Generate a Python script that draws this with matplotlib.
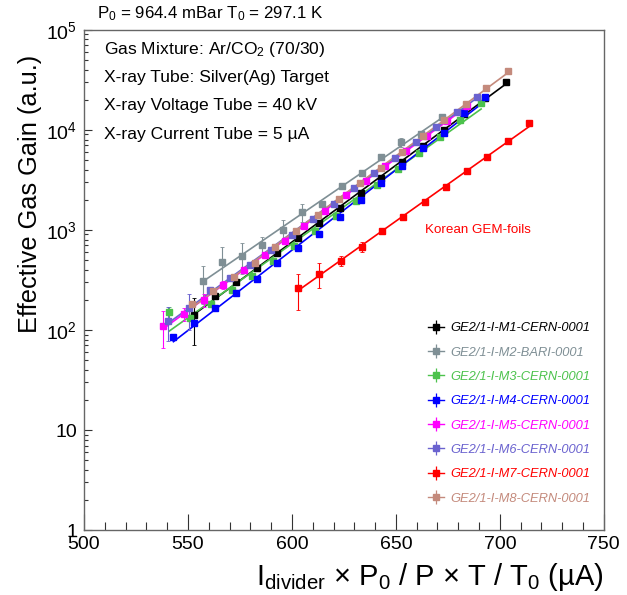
import matplotlib
matplotlib.use("Agg")
import matplotlib.pyplot as plt
import numpy as np
from matplotlib.lines import Line2D
from matplotlib.ticker import FixedLocator, LogLocator, MultipleLocator, FuncFormatter

plt.rcParams['font.family'] = ['Liberation Sans', 'DejaVu Sans']
plt.rcParams['mathtext.fontset'] = 'custom'
plt.rcParams['mathtext.rm'] = 'Liberation Sans'
plt.rcParams['mathtext.it'] = 'Liberation Sans:italic'

# data
m1_x = [553, 563, 573, 583, 593, 603, 613, 623, 633, 643, 653, 663, 673, 683, 693, 703]
m1_y = [140, 219, 302, 417, 589, 832, 1175, 1660, 2344, 3311, 4786, 6918, 10000, 14450, 20900, 30000]
m1_e = [70, 12, 15, 20, 25, 35, 45, 60, 80, 110, 150, 220, 300, 450, 600, 800]

m2_x = [557, 566.5, 576, 585.5, 595.5, 605, 614.5, 624, 633.5, 643, 652.5, 662, 672]
m2_y = [310, 473, 550, 700, 1000, 1510, 1820, 2750, 3700, 5300, 7500, 9000, 13300]
m2_e = [127, 200, 190, 145, 250, 300, 100, 200, 250, 300, 700, 400, 600]

m3_x = [541, 551, 561, 571, 581, 591, 601, 611, 621, 631, 641, 651, 661, 671, 681, 691]
m3_y = [151, 132, 182, 251, 347, 490, 692, 977, 1380, 1950, 2818, 4074, 5888, 8511, 12590, 18620]
m3_e = [20, 8, 10, 12, 15, 20, 25, 35, 45, 60, 90, 120, 180, 250, 350, 500]

m4_x = [543, 553, 563, 573, 583, 593, 603, 613, 623, 633, 643, 653, 663, 673, 683, 693]
m4_y = [86, 118, 167, 233, 324, 464, 655, 915, 1340, 1980, 2960, 4340, 6600, 9400, 14700, 21500]
m4_e = [4, 5, 6, 8, 10, 14, 20, 28, 40, 60, 90, 130, 200, 280, 440, 650]

m5_x = [538, 548, 557.5, 567, 577, 587, 596.5, 606, 616, 626, 635.5, 645, 655, 665, 674.5, 684]
m5_y = [110, 144, 200, 282, 398, 556, 776, 1096, 1549, 2213, 3090, 4365, 6166, 8710, 12300, 17380]
m5_e = [44, 20, 30, 25, 20, 30, 30, 40, 50, 70, 100, 130, 180, 260, 370, 520]

m6_x = [540.5, 550.5, 560.5, 570, 580, 590, 600, 610, 620, 630, 639.5, 649.5, 659.5, 669.5, 679.5, 689]
m6_y = [123, 166, 251, 331, 447, 631, 891, 1288, 1820, 2630, 3715, 5250, 7586, 10720, 15140, 21380]
m6_e = [46, 65, 20, 20, 25, 30, 35, 45, 60, 80, 110, 160, 230, 320, 450, 640]

m7_x = [603, 613, 623.5, 633.5, 643.5, 653.5, 664, 674, 684, 694, 704, 714]
m7_y = [260, 363, 490, 676, 968, 1352, 1905, 2679, 3837, 5395, 7656, 11590]
m7_e = [100, 100, 55, 80, 60, 50, 60, 80, 100, 150, 200, 250]

m8_x = [552, 562, 572, 582, 592, 602, 612.5, 622.5, 632.5, 643, 653, 663, 673, 683.5, 693.5, 704]
m8_y = [181, 245, 341, 471, 676, 977, 1413, 2042, 2917, 4169, 6026, 8710, 12590, 18200, 26120, 38300]
m8_e = [12, 12, 15, 20, 25, 35, 45, 60, 90, 120, 180, 260, 380, 550, 780, 1100]

labels = ["GE2/1-I-M1-CERN-0001", "GE2/1-I-M2-BARI-0001", "GE2/1-I-M3-CERN-0001",
          "GE2/1-I-M4-CERN-0001", "GE2/1-I-M5-CERN-0001", "GE2/1-I-M6-CERN-0001",
          "GE2/1-I-M7-CERN-0001", "GE2/1-I-M8-CERN-0001"]
colors = ["#000000", "#7f8f95", "#4cc24c", "#0000ff", "#ff00ff", "#6a62cf", "#ff0000", "#c48a7c"]

series = [(m1_x, m1_y, m1_e), (m2_x, m2_y, m2_e), (m3_x, m3_y, m3_e), (m4_x, m4_y, m4_e),
          (m5_x, m5_y, m5_e), (m6_x, m6_y, m6_e), (m7_x, m7_y, m7_e), (m8_x, m8_y, m8_e)]

fig = plt.figure(figsize=(6.27, 5.95), dpi=100)
ax = fig.add_axes([0.134, 0.109, 0.829, 0.841])

handles = []
for (x, y, e), c, lab in zip(series, colors, labels):
    x = np.array(x, dtype=float)
    y = np.array(y, dtype=float)
    # exponential fit, drawn over the data range
    p = np.polyfit(x, np.log(y), 1)
    xf = np.linspace(x[0], x[-1], 50)
    ax.plot(xf, np.exp(np.polyval(p, xf)), color=c, lw=1.2, zorder=2)
    ax.errorbar(x, y, yerr=e, fmt='s', color=c, ms=4, elinewidth=0.8,
                ecolor=c, capsize=1.5, capthick=0.6, zorder=3)
    handles.append((Line2D([], [], color=c, lw=1.0, marker='s', ms=4),
                    Line2D([], [], color=c, ls='none', marker='|', ms=10, mew=0.9)))

ax.set_yscale('log')
ax.set_xlim(500, 750)
ax.set_ylim(1, 1e5)

ax.xaxis.set_major_locator(MultipleLocator(50))
ax.xaxis.set_minor_locator(MultipleLocator(10))
ax.yaxis.set_major_locator(FixedLocator([1, 10, 100, 1e3, 1e4, 1e5]))
ax.yaxis.set_minor_locator(LogLocator(base=10, subs=np.arange(2, 10)))


def yfmt(v, pos):
    if v < 5:
        return "1"
    if v < 50:
        return "10"
    return r"$10^{%d}$" % round(np.log10(v))


ax.yaxis.set_major_formatter(FuncFormatter(yfmt))
ax.tick_params(axis='both', which='both', direction='in', top=False, right=False,
               labelsize=14, color='#333333')
ax.tick_params(axis='x', which='major', length=11.5, width=0.8, pad=4)
ax.tick_params(axis='x', which='minor', length=5.8, width=0.8)
ax.tick_params(axis='y', which='major', length=6, width=0.8, pad=5)
ax.tick_params(axis='y', which='minor', length=3, width=0.8)
for s in ax.spines.values():
    s.set_color('#666666')
    s.set_linewidth(1.0)

ax.set_ylabel("Effective Gas Gain (a.u.)", fontsize=18.3, loc='top')
ax.yaxis.set_label_coords(-0.081, 0.95)
ax.set_xlabel(r"I$_{\mathrm{divider}}$ × P$_0$ / P × T / T$_0$ (µA)", fontsize=21, loc='right')
ax.xaxis.set_label_coords(1.0, -0.062)

fig.text(97 / 627, 1 - 14 / 595, r"P$_0$ = 964.4 mBar T$_0$ = 297.1 K", fontsize=12.2, va='center')

info = ["Gas Mixture: Ar/CO$_2$ (70/30)", "X-ray Tube: Silver(Ag) Target",
        "X-ray Voltage Tube = 40 kV", "X-ray Current Tube = 5 µA"]
for txt, yy in zip(info, [0.96, 0.904, 0.848, 0.79]):
    ax.text(0.0385, yy, txt, transform=ax.transAxes, fontsize=12.6, va='center')

ax.text(664, 1000, "Korean GEM-foils", color='#ff0000', fontsize=9.6, va='center')

leg = ax.legend(handles, labels, loc='lower left', bbox_to_anchor=(0.64, 0.028),
                frameon=False, prop={'size': 9.3, 'style': 'italic'},
                labelspacing=0.95, handlelength=1.2, handletextpad=0.5)
for t, c in zip(leg.get_texts(), colors):
    t.set_color(c)

fig.savefig("out.png", dpi=100)
